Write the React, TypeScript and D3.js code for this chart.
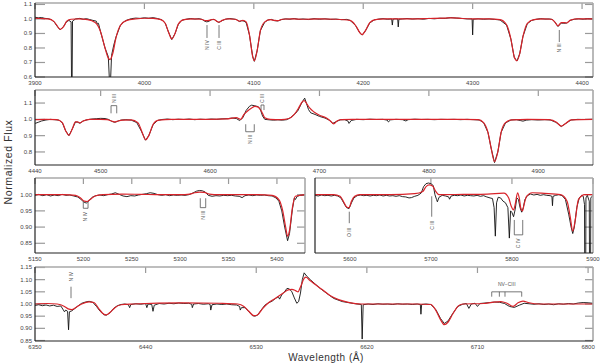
import React, { useEffect, useRef } from "react";
import * as d3 from "d3";

const W = 600;
const H = 364;
const RED = "#d8232a";

type Pt = [number, number];

// Panel 1 (3900 - 4410 A)
const obs1: Pt[] = [[3900,1.012],[3903,1.008],[3906,1.01],[3909,1.004],[3912,1.002],[3915,0.995],[3918,0.975],[3920,0.952],[3923,0.925],[3926,0.948],[3929,0.982],[3931,0.99],[3933,0.98],[3933.4,0.55],[3933.9,0.55],[3934.3,0.985],[3937,1.0],[3941,1.004],[3944,0.998],[3947,1.002],[3950,0.996],[3953,0.99],[3956,0.985],[3957,0.965],[3958,0.97],[3960,0.91],[3964,0.8],[3967,0.74],[3968.2,0.55],[3968.9,0.55],[3970,0.75],[3972,0.82],[3974,0.875],[3978,0.955],[3981,0.98],[3984,0.992],[3988,1.002],[3992,1.006],[3996,1.004],[4000,1.008],[4004,1.005],[4008,1.009],[4012,1.003],[4016,0.994],[4019,0.972],[4022,0.91],[4025,0.858],[4028,0.9],[4031,0.963],[4034,0.99],[4038,0.998],[4042,1.003],[4046,0.999],[4050,1.002],[4053,0.996],[4055,0.985],[4057,0.98],[4059,0.984],[4061,0.995],[4064,0.996],[4066,0.984],[4068,0.976],[4071,0.988],[4074,0.998],[4078,1.003],[4081,1.0],[4084,0.996],[4087,0.982],[4089,0.988],[4091,0.985],[4093,0.975],[4096,0.89],[4099,0.74],[4100.5,0.708],[4103,0.78],[4106,0.92],[4110,0.978],[4113,0.993],[4116,0.997],[4119,0.988],[4122,0.986],[4125,0.995],[4129,1.001],[4133,0.998],[4137,1.003],[4141,0.997],[4145,1.0],[4150,0.996],[4155,1.002],[4160,0.998],[4165,1.001],[4170,0.997],[4175,0.999],[4180,0.995],[4185,0.997],[4188,0.99],[4193,0.955],[4197,0.902],[4199,0.889],[4202,0.918],[4206,0.973],[4210,0.993],[4214,0.999],[4218,1.002],[4222,0.998],[4226,1.0],[4226.6,0.958],[4227.2,0.998],[4229,1.001],[4231.5,1.0],[4232,0.945],[4232.6,0.998],[4236,1.0],[4240,1.003],[4245,0.999],[4250,1.002],[4255,0.998],[4260,1.004],[4265,1.001],[4270,1.005],[4275,1.004],[4280,1.009],[4285,1.006],[4290,1.004],[4295,1.0],[4299.5,1.0],[4300,0.89],[4300.5,0.998],[4305,1.001],[4310,0.998],[4315,1.0],[4320,0.997],[4325,0.993],[4331,0.958],[4335,0.86],[4338,0.735],[4340.5,0.71],[4343,0.76],[4346,0.88],[4350,0.968],[4354,0.99],[4358,0.998],[4362,1.002],[4366,0.999],[4370,1.0],[4373,0.996],[4375,0.98],[4378,0.948],[4381,0.972],[4383,0.97],[4386,0.972],[4389,0.99],[4393,0.998],[4397,1.001],[4401,0.998],[4405,1.002],[4410,1.0]];
const mod1: Pt[] = [[3900,1.005],[3905,1.003],[3912,1.0],[3917,0.985],[3920,0.955],[3923,0.928],[3926,0.945],[3929,0.985],[3933,0.998],[3940,1.0],[3948,0.995],[3955,0.975],[3960,0.91],[3964,0.8],[3967,0.73],[3968.5,0.72],[3971,0.76],[3974,0.87],[3978,0.955],[3984,0.99],[3992,1.0],[4000,1.005],[4008,1.004],[4015,0.995],[4019,0.97],[4022,0.91],[4025,0.862],[4028,0.9],[4031,0.965],[4036,0.995],[4045,1.0],[4052,0.998],[4056,0.988],[4059,0.99],[4063,0.998],[4066,0.985],[4068,0.978],[4071,0.99],[4076,1.0],[4083,0.998],[4087,0.985],[4090,0.99],[4093,0.98],[4096,0.89],[4099,0.74],[4100.5,0.712],[4103,0.78],[4106,0.92],[4110,0.98],[4115,0.995],[4119,0.99],[4122,0.988],[4126,0.998],[4135,1.0],[4145,0.998],[4160,1.0],[4175,0.998],[4188,0.99],[4193,0.955],[4197,0.905],[4199,0.892],[4202,0.92],[4206,0.975],[4211,0.995],[4220,1.0],[4240,1.0],[4260,1.003],[4275,1.006],[4282,1.008],[4290,1.003],[4300,1.0],[4315,1.0],[4325,0.995],[4331,0.96],[4335,0.86],[4338,0.74],[4340.5,0.712],[4343,0.76],[4346,0.88],[4350,0.97],[4356,0.995],[4365,1.0],[4372,0.998],[4375,0.98],[4378,0.953],[4381,0.975],[4384,0.975],[4386,0.972],[4389,0.99],[4395,1.0],[4410,1.0]];
const xTicks1 = [3900, 4000, 4100, 4200, 4300, 4400];
const yTicks1 = [0.6, 0.7, 0.8, 0.9, 1.0, 1.1];

// Panel 2 (4440 - 4950 A)
const obs2: Pt[] = [[4440,0.975],[4443,0.982],[4446,0.99],[4450,0.996],[4454,1.0],[4458,0.998],[4462,0.995],[4465,0.978],[4468,0.93],[4471,0.9],[4474,0.94],[4477,0.984],[4479,0.982],[4481,0.976],[4484,0.99],[4488,0.998],[4492,1.002],[4496,1.004],[4500,1.006],[4504,1.005],[4507,1.0],[4510,0.988],[4513,0.982],[4516,0.99],[4519,0.996],[4523,0.998],[4528,0.995],[4533,0.98],[4537,0.93],[4541,0.872],[4544,0.9],[4548,0.968],[4552,0.993],[4556,0.999],[4561,1.002],[4566,0.998],[4571,1.001],[4576,0.999],[4581,1.002],[4586,0.998],[4591,1.001],[4596,0.999],[4601,1.002],[4606,1.0],[4611,1.003],[4616,1.004],[4620,1.008],[4624,1.005],[4627,0.993],[4630,1.01],[4633,1.055],[4636,1.08],[4638,1.087],[4641,1.083],[4644,1.078],[4646,1.06],[4648,1.02],[4650,1.0],[4654,0.997],[4658,0.995],[4662,0.997],[4666,0.995],[4670,0.998],[4673,1.008],[4677,1.03],[4680,1.05],[4683,1.09],[4685,1.115],[4686.5,1.13],[4688,1.1],[4690,1.06],[4692,1.04],[4696,1.03],[4700,1.018],[4705,1.008],[4709,0.995],[4712,0.975],[4715,0.985],[4719,0.997],[4723,0.998],[4726,0.99],[4727,0.975],[4729,0.993],[4734,1.0],[4740,0.998],[4746,1.001],[4752,0.999],[4758,1.0],[4762,0.995],[4763,0.984],[4765,0.997],[4770,1.0],[4776,0.998],[4779,0.99],[4781,0.998],[4787,1.001],[4793,0.999],[4799,1.0],[4805,0.998],[4811,1.0],[4817,0.999],[4823,1.0],[4829,0.998],[4835,1.0],[4841,0.998],[4846,0.996],[4850,0.98],[4854,0.92],[4857,0.82],[4860,0.735],[4863,0.8],[4866,0.92],[4870,0.978],[4875,0.996],[4880,0.998],[4884,0.992],[4886,0.989],[4889,0.995],[4894,0.998],[4900,0.996],[4906,0.998],[4911,0.996],[4916,0.982],[4921,0.956],[4925,0.975],[4930,0.996],[4936,1.0],[4942,0.999],[4950,1.0]];
const mod2: Pt[] = [[4440,0.998],[4450,1.0],[4460,0.998],[4465,0.98],[4468,0.93],[4471,0.903],[4474,0.94],[4477,0.985],[4479,0.985],[4481,0.978],[4484,0.99],[4490,1.0],[4500,1.0],[4506,0.998],[4510,0.99],[4513,0.984],[4516,0.99],[4520,0.995],[4528,0.997],[4534,0.98],[4538,0.92],[4541,0.875],[4544,0.9],[4548,0.97],[4553,0.995],[4565,1.0],[4600,1.0],[4615,1.003],[4624,1.01],[4628,1.0],[4631,1.03],[4634,1.05],[4638,1.07],[4641,1.08],[4644,1.075],[4647,1.05],[4650,1.01],[4655,1.0],[4665,0.998],[4672,1.005],[4677,1.03],[4681,1.07],[4684,1.105],[4686,1.115],[4688,1.1],[4691,1.07],[4695,1.045],[4700,1.025],[4706,1.01],[4710,0.99],[4713,0.972],[4716,0.99],[4720,0.998],[4730,1.0],[4780,1.0],[4830,1.0],[4845,0.998],[4850,0.98],[4854,0.92],[4857,0.82],[4860,0.74],[4863,0.8],[4866,0.92],[4870,0.98],[4876,0.997],[4890,1.0],[4910,0.998],[4917,0.98],[4921,0.958],[4925,0.975],[4930,0.997],[4950,1.0]];
const xTicks2 = [4440, 4500, 4600, 4700, 4800, 4900];
const yTicks2 = [0.8, 0.9, 1.0, 1.1];

// Panel 3a (5150 - 5429 A)
const obs3: Pt[] = [[5150,0.998],[5154,1.001],[5158,0.997],[5162,1.0],[5166,0.996],[5170,0.999],[5174,0.997],[5178,1.001],[5182,0.998],[5186,0.999],[5190,0.996],[5194,0.993],[5197,0.987],[5200,0.978],[5203,0.974],[5206,0.982],[5209,0.992],[5213,0.997],[5217,0.999],[5221,0.997],[5225,1.0],[5229,1.002],[5233,1.006],[5237,1.001],[5241,0.996],[5245,0.994],[5249,0.997],[5253,0.996],[5257,0.999],[5261,1.001],[5265,1.003],[5269,1.006],[5273,1.004],[5277,1.0],[5281,0.998],[5285,1.0],[5289,0.997],[5293,0.999],[5297,0.998],[5301,0.999],[5305,0.998],[5309,1.0],[5313,1.005],[5317,1.011],[5320,1.013],[5323,1.012],[5326,1.008],[5329,0.998],[5333,0.995],[5337,0.997],[5341,0.996],[5345,0.998],[5349,0.997],[5353,0.998],[5357,0.996],[5361,0.995],[5364,0.991],[5367,0.997],[5371,0.999],[5375,0.997],[5379,0.999],[5383,0.998],[5387,0.999],[5391,0.997],[5395,0.996],[5399,0.99],[5402,0.98],[5405,0.95],[5408,0.9],[5411,0.858],[5413,0.88],[5416,0.955],[5418,0.99],[5419,0.985],[5421,0.995],[5424,0.998],[5429,0.999]];
const mod3: Pt[] = [[5150,1.0],[5180,1.0],[5192,0.998],[5197,0.99],[5201,0.98],[5204,0.979],[5207,0.985],[5212,0.996],[5220,1.0],[5240,1.002],[5260,1.001],[5280,1.0],[5300,1.0],[5310,1.002],[5315,1.006],[5320,1.008],[5325,1.007],[5330,1.002],[5340,1.0],[5380,1.0],[5395,0.998],[5402,0.985],[5406,0.95],[5409,0.9],[5411,0.872],[5413,0.89],[5416,0.96],[5419,0.995],[5429,1.0]];
const xTicks3 = [5150, 5200, 5250, 5300, 5350, 5400];
const yTicks3 = [0.85, 0.9, 0.95, 1.0];

// Panel 3b (5557 - 5900 A)
const obs4: Pt[] = [[5557,0.998],[5561,0.996],[5565,0.999],[5569,0.997],[5573,0.998],[5577,0.996],[5581,0.998],[5585,0.996],[5589,0.99],[5593,0.972],[5596,0.96],[5599,0.957],[5602,0.975],[5605,0.99],[5609,0.997],[5613,0.999],[5617,0.997],[5621,0.998],[5625,0.996],[5629,0.998],[5633,0.997],[5637,0.999],[5641,0.996],[5645,0.998],[5649,0.996],[5653,0.997],[5657,0.995],[5661,0.997],[5665,0.994],[5669,0.993],[5673,0.99],[5676,0.991],[5680,0.995],[5684,0.998],[5688,1.005],[5691,1.025],[5694,1.034],[5697,1.036],[5700,1.034],[5703,1.028],[5705,1.0],[5707,0.985],[5708,0.978],[5710,0.992],[5714,0.998],[5718,0.996],[5722,0.993],[5723,0.986],[5725,0.996],[5729,0.998],[5733,0.997],[5737,0.999],[5741,0.996],[5745,0.998],[5749,0.997],[5753,0.996],[5757,0.998],[5761,0.995],[5765,0.997],[5769,0.993],[5773,0.99],[5776,0.988],[5778,0.96],[5779.5,0.872],[5781,0.975],[5783,0.992],[5786,0.99],[5789,0.98],[5792,0.975],[5795,0.96],[5796.8,0.866],[5798.3,0.95],[5800,0.945],[5802,0.932],[5804,0.955],[5806,0.99],[5808,0.985],[5810,0.96],[5812,0.946],[5814,0.96],[5816,0.985],[5819,0.997],[5823,1.002],[5827,0.999],[5831,1.001],[5835,0.998],[5839,1.0],[5843,0.998],[5847,0.997],[5849.3,0.995],[5850,0.966],[5850.7,0.995],[5854,0.998],[5858,1.0],[5862,0.997],[5866,0.985],[5870,0.94],[5873,0.9],[5875,0.88],[5877,0.9],[5880,0.96],[5883,0.99],[5886,0.998],[5888,0.995],[5889.5,0.97],[5890,0.6],[5890.8,0.6],[5891.3,0.99],[5893,0.998],[5895.4,0.98],[5896,0.6],[5896.8,0.6],[5897.3,0.99],[5900,0.998]];
const mod4: Pt[] = [[5557,1.0],[5580,1.0],[5588,0.995],[5593,0.975],[5596,0.962],[5599,0.96],[5602,0.98],[5606,0.995],[5612,1.0],[5650,1.0],[5680,1.003],[5690,1.01],[5694,1.025],[5698,1.03],[5702,1.027],[5706,1.01],[5710,1.0],[5740,1.001],[5770,1.002],[5790,1.005],[5796,0.99],[5799,0.965],[5802,0.953],[5804,0.97],[5807,1.006],[5809,0.99],[5811,0.958],[5813,0.95],[5815,0.97],[5818,0.995],[5825,1.006],[5840,1.004],[5860,1.0],[5868,0.98],[5872,0.93],[5875,0.888],[5878,0.92],[5882,0.985],[5890,1.0],[5900,1.0]];
const xTicks4 = [5600, 5700, 5800, 5900];

// Panel 4 (6350 - 6804 A)
const obs5: Pt[] = [[6350,0.994],[6353,0.997],[6356,0.993],[6359,0.996],[6362,0.992],[6365,0.995],[6368,0.99],[6371,0.992],[6374,0.968],[6375,0.975],[6376.5,0.97],[6377.3,0.894],[6378,0.968],[6380,0.972],[6382,0.98],[6385,0.992],[6388,1.003],[6391,1.008],[6394,1.011],[6397,1.007],[6400,0.99],[6403,0.97],[6406,0.956],[6408,0.954],[6411,0.964],[6414,0.982],[6417,0.993],[6420,0.998],[6423,1.0],[6426,0.997],[6427,0.985],[6428,0.998],[6432,1.001],[6436,0.999],[6440,1.002],[6441,0.985],[6442,1.0],[6445,0.998],[6446,0.97],[6447,0.995],[6451,1.002],[6455,1.0],[6459,1.003],[6463,1.001],[6467,1.004],[6471,1.002],[6475,1.003],[6477.5,0.999],[6478,0.985],[6479,1.0],[6483,1.002],[6487,0.999],[6491,1.001],[6492.5,0.998],[6493,0.975],[6494,0.997],[6498,1.0],[6502,0.998],[6506,1.0],[6510,0.997],[6514,0.996],[6516.5,0.99],[6517,0.975],[6518,0.985],[6521,0.985],[6524,0.968],[6527,0.952],[6529,0.95],[6531,0.954],[6534,0.975],[6537,0.995],[6540,1.005],[6543,1.012],[6546,1.024],[6548,1.03],[6549,1.02],[6551,1.04],[6553,1.05],[6555,1.064],[6557,1.062],[6559,1.05],[6561,1.025],[6563,1.003],[6564.5,1.01],[6566,1.045],[6567.5,1.1],[6569,1.128],[6571,1.115],[6574,1.1],[6578,1.082],[6582,1.064],[6587,1.045],[6593,1.023],[6600,1.01],[6607,1.004],[6612,1.0],[6615.5,0.998],[6616.2,0.856],[6617,0.997],[6621,1.0],[6625,0.998],[6629,1.001],[6633,0.999],[6637,1.0],[6641,0.998],[6645,1.001],[6649,0.999],[6653,1.0],[6657,0.998],[6661,1.0],[6663.5,0.998],[6664,0.958],[6664.6,0.998],[6668,1.0],[6672,0.998],[6676,0.978],[6680,0.94],[6683,0.92],[6686,0.93],[6690,0.962],[6694,0.99],[6698,0.999],[6701,1.002],[6703,0.982],[6705,1.0],[6708,1.003],[6710,0.99],[6712,1.002],[6716,1.004],[6720,1.006],[6724,1.008],[6728,1.007],[6732,1.002],[6736,0.99],[6740,0.986],[6744,0.995],[6748,1.003],[6752,1.001],[6756,0.999],[6760,1.001],[6764,0.998],[6768,1.0],[6772,0.997],[6776,1.001],[6780,0.999],[6784,1.002],[6788,1.0],[6792,1.004],[6796,1.006],[6800,1.005],[6804,1.003]];
const mod5: Pt[] = [[6350,1.0],[6360,1.002],[6368,1.0],[6374,0.99],[6377,0.98],[6380,0.977],[6383,0.985],[6388,1.0],[6394,1.009],[6398,1.006],[6402,0.98],[6405,0.962],[6408,0.955],[6411,0.965],[6415,0.985],[6420,0.997],[6430,1.0],[6470,1.005],[6500,1.003],[6515,1.0],[6520,0.99],[6524,0.97],[6528,0.952],[6531,0.955],[6535,0.98],[6540,1.005],[6546,1.025],[6552,1.045],[6556,1.058],[6559,1.06],[6562,1.055],[6564,1.05],[6566,1.07],[6569,1.105],[6570.5,1.11],[6573,1.1],[6578,1.08],[6583,1.062],[6590,1.035],[6597,1.018],[6605,1.007],[6615,1.0],[6660,1.0],[6672,0.998],[6676,0.975],[6680,0.935],[6683,0.915],[6686,0.925],[6690,0.96],[6694,0.99],[6698,1.0],[6715,1.002],[6722,1.007],[6729,1.01],[6734,1.003],[6739,0.99],[6743,1.005],[6747,1.012],[6752,1.005],[6760,1.0],[6804,1.0]];
const xTicks5 = [6350, 6440, 6530, 6620, 6710, 6800];
const yTicks5 = [0.85, 0.9, 0.95, 1.0, 1.05, 1.1, 1.15];

// line identifications: single marks and brackets, in data units
type Note =
  | { kind: "mark"; label: string; wl: number; f0: number; f1: number; tf: number }
  | { kind: "bracket"; label: string; wl0: number; wl1: number; fOpen: number; fBar: number; tf: number }
  | { kind: "comb"; label: string; legs: number[]; fBar: number; fEnd: number; tf: number };

const notes1: Note[] = [
  { kind: "mark", label: "N IV", wl: 4057.2, f0: 0.958, f1: 0.869, tf: 0.82 },
  { kind: "mark", label: "C III", wl: 4068.2, f0: 0.958, f1: 0.869, tf: 0.82 },
  { kind: "mark", label: "N III", wl: 4379.2, f0: 0.924, f1: 0.841, tf: 0.8 },
];
const notes2: Note[] = [
  { kind: "bracket", label: "N III", wl0: 4509.5, wl1: 4514.7, fOpen: 1.037, fBar: 1.084, tf: 1.128 },
  { kind: "bracket", label: "N III", wl0: 4632.6, wl1: 4640.4, fOpen: 0.97, fBar: 0.924, tf: 0.877 },
  { kind: "bracket", label: "C III", wl0: 4646.6, wl1: 4649.3, fOpen: 1.057, fBar: 1.088, tf: 1.128 },
];
const notes3: Note[] = [
  { kind: "bracket", label: "N IV", wl0: 5199.9, wl1: 5204.8, fOpen: 0.978, fBar: 0.958, tf: 0.932 },
  { kind: "bracket", label: "N III", wl0: 5320.8, wl1: 5326.4, fOpen: 0.989, fBar: 0.96, tf: 0.937 },
];
const notes4: Note[] = [
  { kind: "mark", label: "O III", wl: 5599.3, f0: 0.9475, f1: 0.912, tf: 0.884 },
  { kind: "mark", label: "C III", wl: 5701, f0: 0.995, f1: 0.932, tf: 0.906 },
  { kind: "bracket", label: "C IV", wl0: 5802.9, wl1: 5813.3, fOpen: 0.922, fBar: 0.876, tf: 0.85 },
];
const notes5: Note[] = [
  { kind: "mark", label: "N IV", wl: 6379.3, f0: 1.071, f1: 1.024, tf: 1.112 },
  { kind: "comb", label: "NV\u2212CIII", legs: [6721.6, 6727.8, 6732.4, 6746], fBar: 1.05, fEnd: 1.03, tf: 1.083 },
];

type Panel = {
  obs: Pt[];
  mod: Pt[];
  xDom: [number, number];
  yDom: [number, number];
  box: [number, number, number, number]; // left, right, top, bottom
  xTicks: number[];
  yTicks: number[];
  fmt: string;
  yLabels: boolean;
  notes: Note[];
};

const panels: Panel[] = [
  { obs: obs1, mod: mod1, xDom: [3900, 4410], yDom: [0.6, 1.11], box: [35, 593, 3, 77], xTicks: xTicks1, yTicks: yTicks1, fmt: ".1f", yLabels: true, notes: notes1 },
  { obs: obs2, mod: mod2, xDom: [4440, 4950], yDom: [0.72, 1.18], box: [35, 593, 90, 165], xTicks: xTicks2, yTicks: yTicks2, fmt: ".1f", yLabels: true, notes: notes2 },
  { obs: obs3, mod: mod3, xDom: [5150, 5429], yDom: [0.82, 1.0515], box: [35, 305, 178, 253], xTicks: xTicks3, yTicks: yTicks3, fmt: ".2f", yLabels: true, notes: notes3 },
  { obs: obs4, mod: mod4, xDom: [5557, 5900], yDom: [0.82, 1.0515], box: [315, 593, 178, 253], xTicks: xTicks4, yTicks: yTicks3, fmt: ".2f", yLabels: false, notes: notes4 },
  { obs: obs5, mod: mod5, xDom: [6350, 6804], yDom: [0.848, 1.152], box: [35, 593, 267, 341], xTicks: xTicks5, yTicks: yTicks5, fmt: ".2f", yLabels: true, notes: notes5 },
];

const FONT = "'Liberation Sans', Arial, sans-serif";

export default function App() {
  const ref = useRef<SVGSVGElement>(null);

  useEffect(() => {
    const svg = d3.select(ref.current).html("");
    svg.append("rect").attr("width", W).attr("height", H).attr("fill", "#fff");

    panels.forEach((p, i) => {
      const [l, r, t, b] = p.box;
      const x = d3.scaleLinear().domain(p.xDom).range([l, r]);
      const y = d3.scaleLinear().domain(p.yDom).range([b, t]);
      const g = svg.append("g");

      const clipId = "clip" + i;
      svg.append("clipPath").attr("id", clipId)
        .append("rect").attr("x", l).attr("y", t).attr("width", r - l).attr("height", b - t);

      // ticks (inward, gray)
      const tk = g.append("g").attr("stroke", "#9a9a9a").attr("stroke-width", 1.2);
      p.yTicks.forEach((v) => {
        if (p.yLabels) tk.append("line").attr("x1", l).attr("x2", l + 10).attr("y1", y(v)).attr("y2", y(v));
        tk.append("line").attr("x1", r - 8).attr("x2", r).attr("y1", y(v)).attr("y2", y(v));
      });
      p.xTicks.forEach((v) => {
        tk.append("line").attr("x1", x(v)).attr("x2", x(v)).attr("y1", t).attr("y2", t + 6);
      });

      // spectra
      const line = d3.line<Pt>().x((d) => x(d[0])).y((d) => y(d[1]));
      const smooth = d3.line<Pt>().x((d) => x(d[0])).y((d) => y(d[1])).curve(d3.curveMonotoneX);
      const sp = g.append("g").attr("clip-path", `url(#${clipId})`);
      sp.append("path").datum(p.obs).attr("d", line).attr("fill", "none")
        .attr("stroke", "#111").attr("stroke-width", 0.9);
      sp.append("path").datum(p.mod).attr("d", smooth).attr("fill", "none")
        .attr("stroke", RED).attr("stroke-width", 1.2);

      // frame: gray top/right, black left/bottom
      g.append("line").attr("x1", l).attr("x2", r).attr("y1", t).attr("y2", t).attr("stroke", "#a8a8a8").attr("stroke-width", 1.6);
      g.append("line").attr("x1", r).attr("x2", r).attr("y1", t).attr("y2", b).attr("stroke", "#a8a8a8").attr("stroke-width", 1.6);
      g.append("line").attr("x1", l).attr("x2", l).attr("y1", t).attr("y2", b).attr("stroke", "#222").attr("stroke-width", 1.2);
      g.append("line").attr("x1", l).attr("x2", r).attr("y1", b).attr("y2", b).attr("stroke", "#222").attr("stroke-width", 1.2);

      // tick labels
      const fmt = d3.format(p.fmt);
      p.xTicks.forEach((v) => {
        g.append("text").attr("x", x(v)).attr("y", b + 8).attr("text-anchor", "middle")
          .attr("font-family", FONT).attr("font-size", 6).attr("fill", "#444").text(String(v));
      });
      if (p.yLabels) {
        p.yTicks.forEach((v) => {
          g.append("text").attr("x", 32).attr("y", y(v) + 2).attr("text-anchor", "end")
            .attr("font-family", FONT).attr("font-size", 6).attr("fill", "#444").text(fmt(v));
        });
      }

      // line identifications
      const ng = g.append("g").attr("stroke", "#555").attr("stroke-width", 0.8).attr("fill", "none");
      const vText = (wl: number, f: number, s: string) =>
        g.append("text").attr("transform", `translate(${x(wl) + 1.8},${y(f)}) rotate(-90)`)
          .attr("text-anchor", "middle").attr("font-family", FONT).attr("font-size", 5)
          .attr("fill", "#555").text(s);
      p.notes.forEach((n) => {
        if (n.kind === "mark") {
          ng.append("line").attr("x1", x(n.wl)).attr("x2", x(n.wl)).attr("y1", y(n.f0)).attr("y2", y(n.f1));
          vText(n.wl, n.tf, n.label);
        } else if (n.kind === "bracket") {
          const pts: [number, number][] = [
            [x(n.wl0), y(n.fOpen)], [x(n.wl0), y(n.fBar)], [x(n.wl1), y(n.fBar)], [x(n.wl1), y(n.fOpen)],
          ];
          ng.append("path").attr("d", d3.line()(pts));
          vText((n.wl0 + n.wl1) / 2, n.tf, n.label);
        } else {
          const x0 = x(n.legs[0]);
          const x1 = x(n.legs[n.legs.length - 1]);
          ng.append("line").attr("x1", x0).attr("x2", x1).attr("y1", y(n.fBar)).attr("y2", y(n.fBar));
          n.legs.forEach((wl) => {
            ng.append("line").attr("x1", x(wl)).attr("x2", x(wl)).attr("y1", y(n.fBar)).attr("y2", y(n.fEnd));
          });
          g.append("text").attr("x", (x0 + x1) / 2).attr("y", y(n.tf) + 2).attr("text-anchor", "middle")
            .attr("font-family", FONT).attr("font-size", 5).attr("fill", "#555").text(n.label);
        }
      });
    });

    // axis titles
    svg.append("text").attr("transform", "translate(12,162) rotate(-90)").attr("text-anchor", "middle")
      .attr("font-family", FONT).attr("font-size", 10.5).attr("fill", "#333").attr("letter-spacing", 0.6)
      .text("Normalized Flux");
    svg.append("text").attr("x", 326).attr("y", 361).attr("text-anchor", "middle")
      .attr("font-family", FONT).attr("font-size", 10).attr("fill", "#333").attr("letter-spacing", 0.5)
      .text("Wavelength (\u00c5)");
  }, []);

  return (
    <svg ref={ref} width={W} height={H}
      style={{ position: "absolute", left: 0, top: 0, display: "block" }} />
  );
}
